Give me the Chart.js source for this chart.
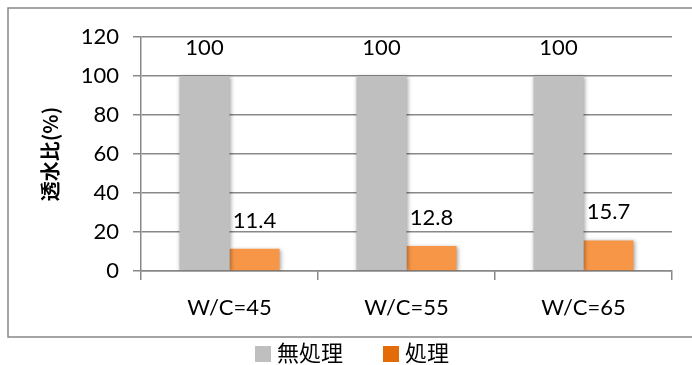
<!DOCTYPE html>
<html>
<head>
<meta charset="utf-8">
<script src="https://cdn.jsdelivr.net/npm/chart.js@4"></script>
<style>
  html, body { margin: 0; padding: 0; background: #fff; }
  #wrap { width: 692px; height: 365px; }
</style>
</head>
<body>
<div id="wrap"><canvas id="grafico"></canvas></div>
<script>
// datos
const categorias = ['W/C=45', 'W/C=55', 'W/C=65'];
const sinTratamiento = [100, 100, 100];
const conTratamiento = [11.4, 12.8, 15.7];
const nombresSeries = ['無処理', '処理'];
const ticksY = [0, 20, 40, 60, 80, 100, 120];

const fuente = "Lato, 'Noto Sans CJK JP', sans-serif";
const fuenteTitulo = "'Noto Sans CJK JP', sans-serif";
const colorGris = '#bfbfbf';
const colorNaranja = '#f79646';
const colorLeyendaNaranja = '#e36c09';

// sombra suave bajo las barras
const sombraBarras = {
    id: 'sombraBarras',
    beforeDatasetsDraw(chart) {
        const ctx = chart.ctx;
        ctx.save();
        ctx.shadowColor = 'rgba(0,0,0,0.35)';
        ctx.shadowBlur = 4;
        ctx.shadowOffsetX = 1;
        ctx.shadowOffsetY = 1;
    },
    afterDatasetsDraw(chart) {
        chart.ctx.restore();
    },
};

// etiquetas de valores, marco y leyenda
const extras = {
    id: 'extras',
    afterDraw(chart) {
        const ctx = chart.ctx;
        ctx.save();
        ctx.font = '22px ' + fuente;
        ctx.fillStyle = '#000';
        ctx.textAlign = 'center';
        ctx.textBaseline = 'middle';
        chart.data.datasets.forEach((ds, i) => {
            chart.getDatasetMeta(i).data.forEach((barra, j) => {
                ctx.fillText(String(ds.data[j]), barra.x, barra.y - 28);
            });
        });

        // marco
        ctx.strokeStyle = '#888';
        ctx.lineWidth = 1.5;
        ctx.beginPath();
        ctx.moveTo(chart.width + 5, 8);
        ctx.lineTo(8, 8);
        ctx.lineTo(8, 337);
        ctx.lineTo(chart.width + 5, 337);
        ctx.stroke();

        // leyenda
        const items = [
            { texto: nombresSeries[0], color: colorGris, x: 255 },
            { texto: nombresSeries[1], color: colorLeyendaNaranja, x: 383 },
        ];
        ctx.textAlign = 'left';
        items.forEach((it) => {
            ctx.fillStyle = it.color;
            ctx.fillRect(it.x, 346, 16, 16);
            ctx.fillStyle = '#000';
            ctx.fillText(it.texto, it.x + 22, 354);
        });
        ctx.restore();
    },
};

new Chart(document.getElementById('grafico'), {
    type: 'bar',
    data: {
        labels: categorias,
        datasets: [
            {
                label: nombresSeries[0],
                data: sinTratamiento,
                backgroundColor: colorGris,
                categoryPercentage: 0.565,
                barPercentage: 1,
            },
            {
                label: nombresSeries[1],
                data: conTratamiento,
                backgroundColor: colorNaranja,
                categoryPercentage: 0.565,
                barPercentage: 1,
            },
        ],
    },
    options: {
        responsive: true,
        maintainAspectRatio: false,
        animation: false,
        layout: { padding: { left: 0, right: 20, top: 37, bottom: 27 } },
        plugins: { legend: { display: false }, tooltip: { enabled: false } },
        scales: {
            x: {
                grid: {
                    offset: true,
                    drawOnChartArea: false,
                    tickLength: 9,
                    color: '#888',
                    lineWidth: 1.5,
                },
                border: { color: '#888', width: 1.5 },
                ticks: { font: { family: fuente, size: 22 }, color: '#000', padding: 15 },
                afterFit(scale) { scale.height = 67; },
            },
            y: {
                min: 0,
                max: 120,
                afterBuildTicks(scale) { scale.ticks = ticksY.map((v) => ({ value: v })); },
                grid: { color: '#888', lineWidth: 1.5, tickLength: 8 },
                border: { color: '#888', width: 1.5 },
                ticks: { font: { family: fuente, size: 22 }, color: '#000', padding: 14 },
                title: {
                    display: true,
                    text: '透水比(%)',
                    font: { family: fuenteTitulo, size: 20, weight: 'bold' },
                    color: '#000',
                    padding: { top: 38, bottom: 0 },
                },
                afterFit(scale) { scale.width = 141; },
            },
        },
    },
    plugins: [sombraBarras, extras],
});
</script>
</body>
</html>
